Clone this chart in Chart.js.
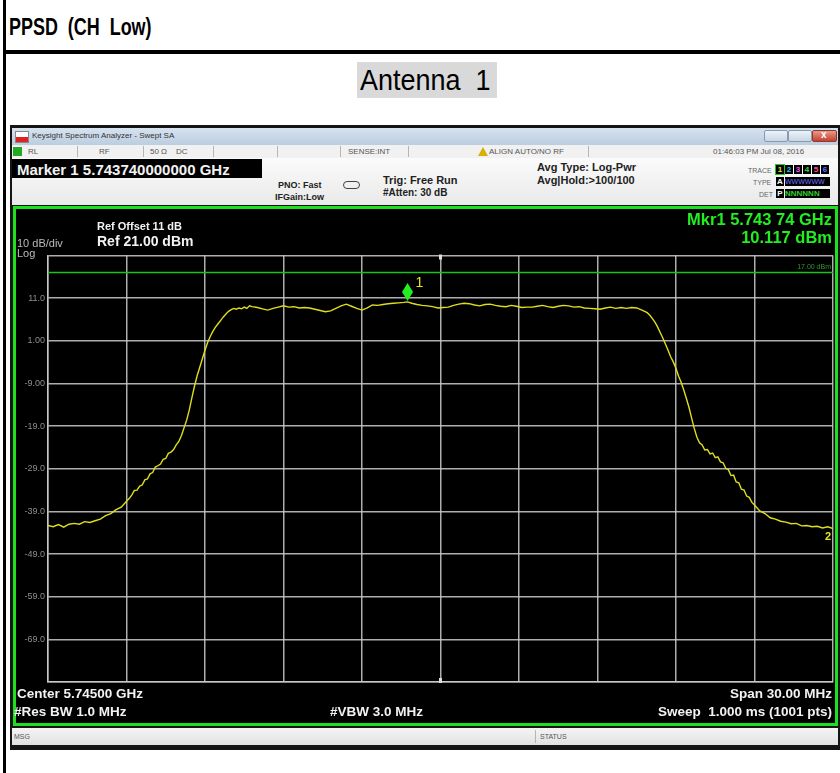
<!DOCTYPE html>
<html lang="en">
<head>
<meta charset="utf-8">
<title>PPSD (CH Low)</title>
<script src="https://cdn.jsdelivr.net/npm/chart.js@4.4.1/dist/chart.umd.min.js"></script>
<style>
  body { margin: 0; width: 840px; height: 773px; overflow: hidden; background: #fff; position: relative; font-family: "Liberation Sans", Arial, sans-serif; }
  .abs { position: absolute; white-space: pre; line-height: 1; }
  .b { font-weight: bold; }
  #bordeIzq { position: absolute; left: 3px; top: 0; width: 3px; height: 773px; background: #000; }
  #lineaTitulo { position: absolute; left: 3px; top: 50px; width: 837px; height: 4px; background: #000; }
  #titulo { left: 9px; top: 16px; font-size: 23px; font-weight: bold; transform: scaleX(0.78); transform-origin: left top; }
  #antena { position: absolute; left: 357px; top: 62px; width: 140px; height: 36px; background: #d9d9d9; }
  #antena span { position: absolute; left: 3px; top: 4px; font-size: 29px; white-space: pre; line-height: 1; transform: scaleX(0.93); transform-origin: left top; }
  #ventana { position: absolute; left: 10px; top: 125px; width: 830px; height: 625px; background: #151515; }
  #barraTitulo { position: absolute; left: 12px; top: 128px; width: 826px; height: 17px; background: linear-gradient(#d6e2ef, #bccde0); }
  #filaEstado { position: absolute; left: 12px; top: 145px; width: 826px; height: 13px; background: #f1f1f1; border-bottom: 1px solid #bbb; }
  #filaInfo { position: absolute; left: 12px; top: 158px; width: 826px; height: 47px; background: linear-gradient(#fbfbfb, #e9e9e9); }
  #marcador { position: absolute; left: 12px; top: 159px; width: 250px; height: 19px; background: #000; }
  #pantalla { position: absolute; left: 13px; top: 206px; width: 825px; height: 520px; background: #000; border: 3px solid #1fe01f; box-sizing: border-box; }
  #grafica { position: absolute; left: 16px; top: 209px; }
  #barraMsg { position: absolute; left: 12px; top: 728px; width: 826px; height: 17px; background: linear-gradient(#f4f4f4, #e2e2e2); }
  .sep { position: absolute; top: 146px; width: 1px; height: 11px; background: #b5b5b5; }
  .btn { position: absolute; top: 130px; height: 12px; border: 1px solid #8a9bb0; border-radius: 2px; background: linear-gradient(#eef3f8, #c9d6e4); box-sizing: border-box; }
  .cuadro { position: absolute; width: 8px; height: 9px; background: #000; font-size: 8px; font-weight: bold; text-align: center; line-height: 9px; }
  .gris { color: #555; font-size: 8px; }
  .blanco { color: #f2f2f2; }
  .verde { color: #22ee22; }
</style>
</head>
<body>
<div id="bordeIzq"></div>
<div class="abs" id="titulo">PPSD  (CH  Low)</div>
<div id="lineaTitulo"></div>
<div id="antena"><span>Antenna  1</span></div>

<div id="ventana"></div>
<div id="barraTitulo"></div>
<div class="abs" style="left:15px;top:131px;width:12px;height:10px;background:linear-gradient(#fff 55%, #d22 55%);border:1px solid #888;"></div>
<div class="abs" style="left:32px;top:132px;font-size:8px;color:#333;">Keysight Spectrum Analyzer - Swept SA</div>
<div class="btn" style="left:764px;width:24px;"></div>
<div class="btn" style="left:788px;width:24px;"></div>
<div class="btn" style="left:812px;width:25px;background:linear-gradient(#e89a8a,#c8402f);border-color:#8a3a30;"></div>
<div class="abs" style="left:821px;top:130px;font-size:10px;color:#fff;font-weight:bold;">x</div>

<div id="filaEstado"></div>
<div class="abs" style="left:13px;top:147px;width:9px;height:9px;background:#22aa22;"></div>
<div class="abs gris" style="left:28px;top:148px;">RL</div>
<div class="sep" style="left:77px"></div>
<div class="abs gris" style="left:99px;top:148px;">RF</div>
<div class="sep" style="left:143px"></div>
<div class="abs gris" style="left:150px;top:148px;">50 Ω</div>
<div class="abs gris" style="left:176px;top:148px;">DC</div>
<div class="sep" style="left:213px"></div>
<div class="sep" style="left:277px"></div>
<div class="sep" style="left:340px"></div>
<div class="abs gris" style="left:348px;top:148px;">SENSE:INT</div>
<div class="sep" style="left:408px"></div>
<div class="abs" style="left:478px;top:147px;width:0;height:0;border-left:5px solid transparent;border-right:5px solid transparent;border-bottom:9px solid #d8b000;"></div>
<div class="abs gris" style="left:489px;top:148px;">ALIGN AUTO/NO RF</div>
<div class="sep" style="left:588px"></div>
<div class="abs gris" style="left:713px;top:148px;">01:46:03 PM Jul 08, 2016</div>

<div id="filaInfo"></div>
<div id="marcador"></div>
<div class="abs b blanco" style="left:17px;top:162px;font-size:15px;">Marker 1 5.743740000000 GHz</div>
<div class="abs b" style="left:278px;top:181px;font-size:9px;color:#222;">PNO: Fast</div>
<div class="abs b" style="left:275px;top:193px;font-size:9px;color:#222;">IFGain:Low</div>
<div class="abs" style="left:343px;top:181px;width:15px;height:6px;border:1px solid #444;border-radius:4px;"></div>
<div class="abs b" style="left:383px;top:175px;font-size:11px;color:#222;">Trig: Free Run</div>
<div class="abs b" style="left:383px;top:188px;font-size:10px;color:#222;">#Atten: 30 dB</div>
<div class="abs b" style="left:537px;top:162px;font-size:11px;color:#222;">Avg Type: Log-Pwr</div>
<div class="abs b" style="left:537px;top:175px;font-size:11px;color:#222;">Avg|Hold:&gt;100/100</div>
<div class="abs" style="left:748px;top:167px;font-size:7px;color:#666;">TRACE</div>
<div class="abs" style="left:753px;top:179px;font-size:7px;color:#666;">TYPE</div>
<div class="abs" style="left:759px;top:191px;font-size:7px;color:#666;">DET</div>
<div class="cuadro" style="left:776px;top:165px;color:#e8e820;outline:1px solid #2c2;">1</div>
<div class="cuadro" style="left:785px;top:165px;color:#20c8ff;">2</div>
<div class="cuadro" style="left:794px;top:165px;color:#ff50ff;">3</div>
<div class="cuadro" style="left:803px;top:165px;color:#30e030;">4</div>
<div class="cuadro" style="left:812px;top:165px;color:#ff5080;">5</div>
<div class="cuadro" style="left:821px;top:165px;color:#6070ff;">6</div>
<div class="cuadro" style="left:776px;top:177px;color:#fff;">A</div>
<div class="abs" style="left:785px;top:177px;width:45px;height:9px;background:#000;color:#7070ff;font-size:7px;line-height:9px;">WWWWWW</div>
<div class="cuadro" style="left:776px;top:189px;color:#fff;">P</div>
<div class="abs" style="left:785px;top:189px;width:45px;height:9px;background:#000;color:#30d030;font-size:8px;font-weight:bold;line-height:9px;">NNNNNN</div>

<div id="pantalla"></div>
<canvas id="grafica" width="819" height="514"></canvas>
<div class="abs b verde" style="right:8px;top:211px;font-size:16.5px;">Mkr1 5.743 74 GHz</div>
<div class="abs b verde" style="right:8px;top:229px;font-size:16.5px;">10.117 dBm</div>
<div class="abs b blanco" style="left:97px;top:221px;font-size:11px;">Ref Offset 11 dB</div>
<div class="abs b blanco" style="left:97px;top:234px;font-size:14px;">Ref 21.00 dBm</div>
<div class="abs" style="left:17px;top:238px;font-size:11px;color:#bbb;">10 dB/div</div>
<div class="abs" style="left:17px;top:248px;font-size:11px;color:#bbb;">Log</div>
<div class="abs b blanco" style="left:17px;top:687px;font-size:13.5px;">Center 5.74500 GHz</div>
<div class="abs b blanco" style="left:14px;top:705px;font-size:13.5px;">#Res BW 1.0 MHz</div>
<div class="abs b blanco" style="left:330px;top:705px;font-size:13.5px;">#VBW 3.0 MHz</div>
<div class="abs b blanco" style="right:8px;top:687px;font-size:13.5px;">Span 30.00 MHz</div>
<div class="abs b blanco" style="right:8px;top:705px;font-size:13.5px;">Sweep  1.000 ms (1001 pts)</div>

<div id="barraMsg"></div>
<div class="abs gris" style="left:14px;top:733px;font-size:7px;">MSG</div>
<div class="sep" style="left:535px;top:730px;height:13px;"></div>
<div class="abs gris" style="left:540px;top:733px;font-size:7px;">STATUS</div>

<script>
const frecuencias = [
  5730.0, 5730.2, 5730.4, 5730.6, 5730.8, 5731.0, 5731.2, 5731.4, 5731.6, 5731.8,
  5732.0, 5732.2, 5732.4, 5732.6, 5732.8, 5733.0, 5733.1, 5733.2, 5733.3, 5733.4,
  5733.5, 5733.6, 5733.7, 5733.8, 5733.9, 5734.0, 5734.1, 5734.2, 5734.3, 5734.4,
  5734.5, 5734.6, 5734.7, 5734.8, 5734.9, 5735.0,
  5735.1, 5735.2, 5735.3, 5735.4, 5735.5, 5735.6, 5735.7, 5735.8, 5735.9, 5736.0,
  5736.1, 5736.2, 5736.3, 5736.4, 5736.5, 5736.6, 5736.7, 5736.8, 5736.9, 5737.0,
  5737.1, 5737.2, 5737.3, 5737.4, 5737.5, 5737.6, 5737.7, 5737.8,
  5738.0, 5738.2, 5738.4, 5738.6, 5738.8, 5739.0, 5739.2, 5739.4, 5739.6, 5739.8,
  5740.0, 5740.2, 5740.4, 5740.6, 5740.8, 5741.0, 5741.2, 5741.4, 5741.6, 5741.8,
  5742.0, 5742.2, 5742.4, 5742.6, 5742.8, 5743.0, 5743.2, 5743.4, 5743.6, 5743.74,
  5743.9, 5744.1, 5744.3, 5744.5, 5744.7, 5744.9, 5745.1, 5745.3, 5745.5, 5745.7,
  5745.9, 5746.1, 5746.3, 5746.5, 5746.7, 5746.9, 5747.1, 5747.3, 5747.5, 5747.7,
  5747.9, 5748.1, 5748.3, 5748.5, 5748.7, 5748.9, 5749.1, 5749.3, 5749.5, 5749.7,
  5749.9, 5750.1, 5750.3, 5750.5, 5750.7, 5750.9, 5751.1, 5751.3, 5751.5, 5751.7,
  5751.9, 5752.1, 5752.3, 5752.5, 5752.7, 5752.9,
  5753.0, 5753.1, 5753.2, 5753.3, 5753.4, 5753.5, 5753.6, 5753.7, 5753.8, 5753.9,
  5754.0, 5754.1, 5754.2, 5754.3, 5754.4, 5754.5, 5754.6, 5754.7, 5754.8, 5754.9,
  5755.0, 5755.1, 5755.2, 5755.3, 5755.4, 5755.5, 5755.6, 5755.7, 5755.8, 5755.9,
  5756.0, 5756.1, 5756.2, 5756.3, 5756.4, 5756.5, 5756.6, 5756.7, 5756.8, 5756.9,
  5757.0, 5757.2, 5757.4, 5757.6, 5757.8, 5758.0, 5758.2, 5758.4, 5758.6, 5758.8,
  5759.0, 5759.2, 5759.4, 5759.6, 5759.8, 5760.0
];
const niveles = [
  -42.3, -42.6, -42.1, -42.7, -42.0, -41.8, -42.0, -41.4, -41.6, -41.2,
  -40.8, -40.0, -39.5, -38.6, -38.0, -36.6, -36.0, -35.2, -34.1, -34.0,
  -33.1, -32.8, -31.6, -31.4, -30.2, -29.9, -28.6, -28.3, -27.9, -26.8,
  -26.6, -25.4, -25.1, -24.5, -23.4, -22.6,
  -21.2, -19.4, -17.6, -15.2, -12.3, -9.6, -7.2, -5.2, -3.2, -1.2,
  0.6, 2.0, 3.2, 4.2, 5.0, 5.8, 6.6, 7.3, 7.9, 8.3,
  8.6, 8.4, 8.7, 8.5, 8.9, 8.6, 9.2, 9.0,
  8.8, 8.5, 8.2, 8.6, 8.9, 9.2, 8.9, 9.0, 8.7, 8.8,
  8.7, 8.4, 8.1, 7.8, 8.0, 8.6, 9.2, 9.6, 9.1, 8.6,
  8.2, 8.7, 9.4, 9.3, 9.5, 9.7, 9.8, 9.9, 10.0, 10.117,
  9.8, 9.5, 9.3, 9.2, 9.0, 8.7, 8.8, 8.9, 9.3, 9.6,
  9.8, 9.7, 9.4, 9.2, 9.5, 9.6, 9.3, 9.1, 9.0, 9.3,
  9.1, 8.8, 8.9, 8.9, 9.1, 9.3, 9.0, 8.8, 9.1, 9.3,
  9.2, 8.9, 9.0, 8.7, 8.6, 8.5, 8.4, 8.7, 8.9, 8.6,
  8.8, 8.6, 8.8, 8.7, 8.2, 7.6,
  7.0, 6.2, 5.3, 4.2, 2.9, 1.6, 0.2, -1.3, -2.8, -4.0,
  -5.5, -7.3, -8.8, -10.6, -12.6, -14.7, -17.2, -19.6, -21.6, -22.9,
  -23.4, -24.6, -24.5, -25.5, -25.3, -26.4, -26.2, -27.4, -27.6, -28.9,
  -29.2, -30.6, -30.5, -32.1, -32.3, -33.8, -34.0, -35.4, -35.7, -36.9,
  -37.5, -38.9, -39.5, -40.5, -40.8, -41.3, -41.5, -41.9, -41.8, -42.4,
  -42.3, -42.6, -42.5, -42.9, -42.6, -43.0
];

// Linea limite 17 dBm
const limiteFrecuencias = [5730, 5760];
const limiteNiveles = [17, 17];

// Marcadores 1 y 2
const marcadorNombres = ["1", "2"];
const marcadorFrecuencias = [5743.74, 5760.0];
const marcadorNiveles = [10.117, -42.9];

// Divisiones de la pantalla (10 dB/div, 3 MHz/div)
const yTicks = [-79, -69, -59, -49, -39, -29, -19, -9, 1, 11, 21];
const yTickLabels = ["", "-69.0", "-59.0", "-49.0", "-39.0", "-29.0", "-19.0", "-9.00", "1.00", "11.0", ""];
const xTicks = [5730, 5733, 5736, 5739, 5742, 5745, 5748, 5751, 5754, 5757, 5760];

const colorGrid = "rgba(205, 205, 205, 0.85)";

const pluginMarcadores = {
  id: "marcadores",
  afterDatasetsDraw(chart) {
    const ctx = chart.ctx;
    const xs = chart.scales.x;
    const ys = chart.scales.y;
    ctx.save();

    // texto de la linea limite
    ctx.fillStyle = "#2f9a2f";
    ctx.font = "7px 'Liberation Sans'";
    ctx.textAlign = "right";
    ctx.textBaseline = "bottom";
    ctx.fillText("17.00 dBm", xs.right - 2, ys.getPixelForValue(limiteNiveles[0]) - 2);

    // marcas de centro arriba y abajo
    const cx = xs.getPixelForValue(xTicks[5]);
    ctx.fillStyle = "#dddddd";
    ctx.fillRect(cx - 1.5, ys.top - 1, 3, 5);
    ctx.fillRect(cx - 1.5, ys.bottom - 4, 3, 5);

    // marcador 1 (rombo verde)
    const px = xs.getPixelForValue(marcadorFrecuencias[0]);
    const py = ys.getPixelForValue(marcadorNiveles[0]);
    ctx.fillStyle = "#22ee22";
    ctx.beginPath();
    ctx.moveTo(px, py - 1);
    ctx.lineTo(px + 5.5, py - 10);
    ctx.lineTo(px, py - 19);
    ctx.lineTo(px - 5.5, py - 10);
    ctx.closePath();
    ctx.fill();
    ctx.fillStyle = "#e6e620";
    ctx.font = "14px 'Liberation Sans'";
    ctx.textAlign = "left";
    ctx.textBaseline = "alphabetic";
    ctx.fillText(marcadorNombres[0], px + 8, py - 15);

    // marcador 2
    const qx = xs.getPixelForValue(marcadorFrecuencias[1]);
    const qy = ys.getPixelForValue(marcadorNiveles[1]);
    ctx.font = "bold 11px 'Liberation Sans'";
    ctx.textAlign = "right";
    ctx.fillText(marcadorNombres[1], qx - 2, qy + 12);
    ctx.restore();
  }
};

const canvas = document.getElementById("grafica");
const ctx = canvas.getContext("2d");

window.myChart = new Chart(ctx, {
  type: "line",
  data: {
    datasets: [
      {
        label: "Traza 1",
        data: frecuencias.map((f, i) => ({ x: f, y: niveles[i] })),
        borderColor: "#dede1c",
        borderWidth: 1.4,
        pointRadius: 0,
        tension: 0,
      },
      {
        label: "Limite",
        data: limiteFrecuencias.map((f, i) => ({ x: f, y: limiteNiveles[i] })),
        borderColor: "#16c816",
        borderWidth: 1.6,
        pointRadius: 0,
      },
    ],
  },
  options: {
    responsive: false,
    animation: false,
    layout: { padding: { top: 46.5, right: 2, bottom: 41, left: 0 } },
    plugins: { legend: { display: false }, tooltip: { enabled: false } },
    scales: {
      x: {
        type: "linear",
        min: 5730,
        max: 5760,
        afterBuildTicks: (axis) => { axis.ticks = xTicks.map((v) => ({ value: v })); },
        afterFit: (axis) => { axis.height = 0; },
        ticks: { display: false },
        grid: { color: colorGrid, lineWidth: 1.5, drawTicks: false },
        border: { color: colorGrid, width: 1.5 },
      },
      y: {
        min: -79,
        max: 21,
        afterBuildTicks: (axis) => { axis.ticks = yTicks.map((v) => ({ value: v })); },
        afterFit: (axis) => { axis.width = 32; },
        ticks: {
          color: "#8e8e8e",
          font: { size: 9, family: "Liberation Sans" },
          padding: 3,
          callback: (value) => yTickLabels[yTicks.indexOf(value)],
        },
        grid: { color: colorGrid, lineWidth: 1.5, drawTicks: false },
        border: { color: colorGrid, width: 1.5 },
      },
    },
  },
  plugins: [pluginMarcadores],
});
</script>
</body>
</html>
